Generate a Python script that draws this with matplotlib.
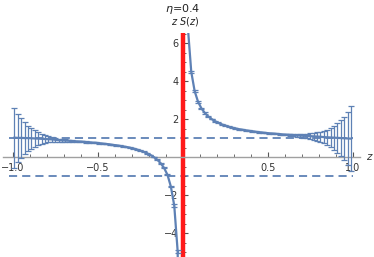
import numpy as np
import matplotlib
matplotlib.use("Agg")
import matplotlib.pyplot as plt
from matplotlib.ticker import FixedLocator, MultipleLocator

# sample points z = -0.99 ... -0.01 and 0.01 ... 0.99 (step 0.02)
z_left = [-0.99, -0.97, -0.95, -0.93, -0.91, -0.89, -0.87, -0.85, -0.83, -0.81,
          -0.79, -0.77, -0.75, -0.73, -0.71, -0.69, -0.67, -0.65, -0.63, -0.61,
          -0.59, -0.57, -0.55, -0.53, -0.51, -0.49, -0.47, -0.45, -0.43, -0.41,
          -0.39, -0.37, -0.35, -0.33, -0.31, -0.29, -0.27, -0.25, -0.23, -0.21,
          -0.19, -0.17, -0.15, -0.13, -0.11, -0.09, -0.07, -0.05, -0.03, -0.01]
zS_left = [1.02, 1.01, 1.01, 1.00, 1.00, 0.99, 0.98, 0.97, 0.96, 0.95,
           0.94, 0.93, 0.91, 0.89, 0.88, 0.87, 0.86, 0.84, 0.83, 0.82,
           0.81, 0.79, 0.78, 0.76, 0.75, 0.73, 0.71, 0.69, 0.67, 0.64,
           0.62, 0.59, 0.56, 0.53, 0.49, 0.45, 0.40, 0.34, 0.28, 0.20,
           0.11, 0.00, -0.14, -0.32, -0.57, -0.93, -1.55, -2.55, -4.95, -16.5]
err_left = [1.58, 1.28, 1.07, 0.84, 0.66, 0.55, 0.43, 0.34, 0.26, 0.20,
            0.16, 0.13, 0.10, 0.08, 0.07, 0.06, 0.05, 0.04, 0.04, 0.03,
            0.03, 0.03, 0.02, 0.02, 0.02, 0.02, 0.02, 0.02, 0.02, 0.02,
            0.02, 0.02, 0.02, 0.02, 0.02, 0.02, 0.02, 0.02, 0.02, 0.02,
            0.02, 0.02, 0.03, 0.03, 0.03, 0.04, 0.05, 0.06, 0.08, 0.2]

z_right = [0.01, 0.03, 0.05, 0.07, 0.09, 0.11, 0.13, 0.15, 0.17, 0.19,
           0.21, 0.23, 0.25, 0.27, 0.29, 0.31, 0.33, 0.35, 0.37, 0.39,
           0.41, 0.43, 0.45, 0.47, 0.49, 0.51, 0.53, 0.55, 0.57, 0.59,
           0.61, 0.63, 0.65, 0.67, 0.69, 0.71, 0.73, 0.75, 0.77, 0.79,
           0.81, 0.83, 0.85, 0.87, 0.89, 0.91, 0.93, 0.95, 0.97, 0.99]
zS_right = [18.5, 6.83, 4.49, 3.47, 2.91, 2.56, 2.32, 2.14, 2.00, 1.89,
            1.80, 1.72, 1.66, 1.60, 1.55, 1.51, 1.47, 1.44, 1.41, 1.38,
            1.36, 1.33, 1.31, 1.29, 1.27, 1.25, 1.24, 1.22, 1.21, 1.19,
            1.18, 1.17, 1.16, 1.14, 1.13, 1.12, 1.11, 1.10, 1.09, 1.08,
            1.07, 1.05, 1.04, 1.03, 1.02, 1.01, 1.00, 0.99, 0.98, 0.97]
err_right = [0.2, 0.08, 0.06, 0.05, 0.04, 0.03, 0.03, 0.03, 0.02, 0.02,
             0.02, 0.02, 0.02, 0.02, 0.02, 0.02, 0.02, 0.02, 0.02, 0.02,
             0.02, 0.02, 0.02, 0.02, 0.02, 0.02, 0.03, 0.03, 0.03, 0.04,
             0.04, 0.05, 0.06, 0.07, 0.08, 0.10, 0.12, 0.15, 0.18, 0.22,
             0.27, 0.33, 0.40, 0.50, 0.63, 0.78, 0.97, 1.14, 1.40, 1.71]

ref_levels = [1.0, -1.0]
eta = 0.4

blue = "#5e81b5"
gray = "#a0a0a0"

fig = plt.figure(figsize=(3.74, 2.57), dpi=100)
ax = fig.add_axes([0, 0, 1, 224 / 257])
ax.set_xlim(-1.075, 1.125)
ax.set_ylim(-5.26, 6.53)

# reference lines
for lv in ref_levels:
    ax.plot([-1.025, 1.0], [lv, lv], color=blue, lw=1.3, dashes=(4.5, 2.8), zorder=1)

# red line at z = 0
ax.axvline(0, color="#ff1a1a", lw=3.2, zorder=2)

for zz, yy, ee in [(z_left, zS_left, err_left), (z_right, zS_right, err_right)]:
    ax.errorbar(zz, yy, yerr=ee, color=blue, lw=1.6, elinewidth=0.9,
                capsize=2.2, capthick=0.9, zorder=3)

# axes at the origin, Mathematica style
for s in ["top", "right"]:
    ax.spines[s].set_visible(False)
ax.spines["bottom"].set_position(("data", 0))
ax.spines["bottom"].set_bounds(-1.055, 1.04)
ax.spines["left"].set_position(("data", 0))
ax.spines["bottom"].set_color(gray)
ax.spines["left"].set_color(gray)
ax.spines["bottom"].set_linewidth(1.0)
ax.spines["left"].set_zorder(1)
ax.patch.set_alpha(0)

ax.xaxis.set_major_locator(FixedLocator([-1.0, -0.5, 0.5, 1.0]))
ax.xaxis.set_major_formatter(plt.FixedFormatter(["\u22121.0", "\u22120.5", "0.5", "1.0"]))
ax.xaxis.set_minor_locator(FixedLocator([-0.9, -0.8, -0.7, -0.6, -0.4, -0.3, -0.2, -0.1,
                                         0.1, 0.2, 0.3, 0.4, 0.6, 0.7, 0.8, 0.9]))
ax.yaxis.set_major_locator(FixedLocator([-4, -2, 2, 4, 6]))
ax.yaxis.set_minor_locator(MultipleLocator(0.5))

ax.tick_params(which="both", direction="in", colors="#555555", labelcolor="#333333",
               labelsize=7)
ax.tick_params(which="major", length=3.5, width=0.8)
ax.tick_params(which="minor", length=2, width=0.6)
ax.tick_params(axis="x", pad=4)
ax.tick_params(axis="y", pad=3)

ax.text(1.1, 0, "$z$", fontsize=7.5, ha="center", va="center", color="#333333")
fig.text(183 / 374, 1 - 9 / 257, f"$\\eta$=0.4", fontsize=8, ha="center", va="center",
         color="#222222")
fig.text(185 / 374, 1 - 22 / 257, "$z\\ S(z)$", fontsize=7, ha="center", va="center",
         color="#222222")

fig.savefig("out.png", dpi=100)
